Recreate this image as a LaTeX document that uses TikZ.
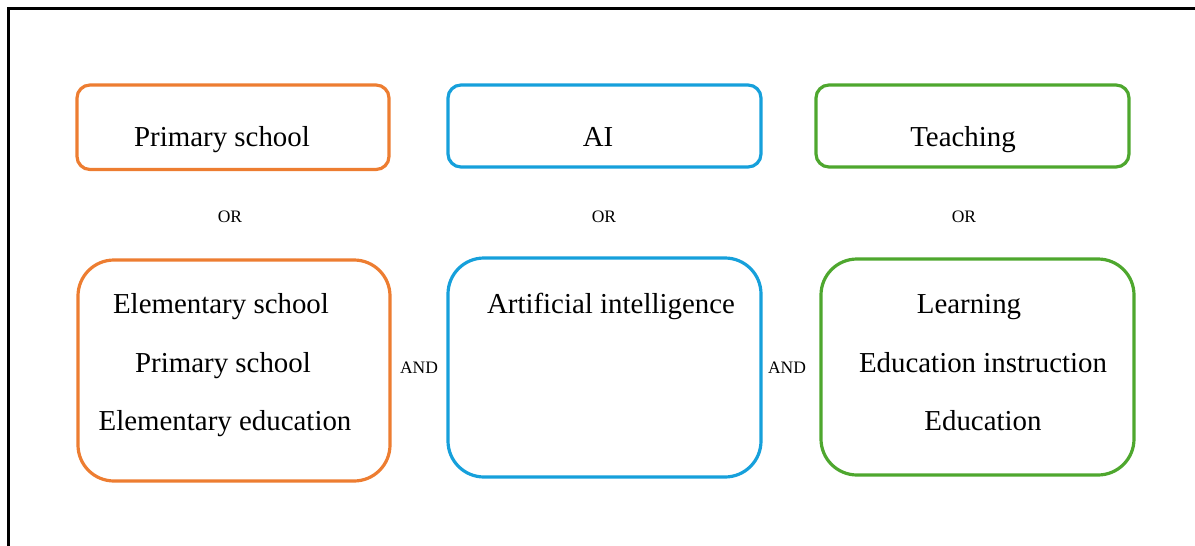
\documentclass[tikz,border=0pt]{standalone}
\usepackage{fontspec}
\setmainfont{Liberation Serif}
\definecolor{cOrange}{RGB}{237,125,49}
\definecolor{cBlue}{RGB}{22,160,219}
\definecolor{cGreen}{RGB}{78,167,46}
\tikzset{
  boxbase/.style={draw, line width=3.2pt, rectangle, inner sep=0pt},
  topbox/.style={boxbase, rounded corners=13pt},
  botbox/.style={boxbase, rounded corners=36pt},
  bigtxt/.style={font=\fontsize{28.9}{32}\selectfont, inner sep=0pt, anchor=base},
  smalltxt/.style={font=\fontsize{17.5}{20}\selectfont, inner sep=0pt, anchor=base},
}
\begin{document}
\begin{tikzpicture}[x=1pt,y=-1pt]
\useasboundingbox (0,0) rectangle (1195,546);
\begin{scope}
\clip (0,0) rectangle (1195,546);
\draw[line width=2.5pt] (8.7,8.7) rectangle (1210,560);
\end{scope}
% top boxes
\node[topbox, cOrange, minimum width=312pt, minimum height=84.5pt] (o1) at (233,127.25) {};
\node[topbox, cBlue, minimum width=313pt, minimum height=82pt] (b1) at (604.5,126) {};
\node[topbox, cGreen, minimum width=313pt, minimum height=82pt] (g1) at (972.5,126) {};
% bottom boxes
\node[botbox, cOrange, minimum width=312pt, minimum height=221pt] (o2) at (234,370.5) {};
\node[botbox, cBlue, minimum width=313pt, minimum height=219pt] (b2) at (604.5,367.5) {};
\node[botbox, cGreen, minimum width=313pt, minimum height=216pt] (g2) at (977.5,367) {};
% top texts
\node[bigtxt] (t1) at (222,146) {Primary school};
\node[bigtxt] (t2) at (598,146) {AI};
\node[bigtxt] (t3) at (963,146) {Teaching};
% OR labels
\node[smalltxt] (or1) at (230,222) {OR};
\node[smalltxt] (or2) at (604,222) {OR};
\node[smalltxt] (or3) at (964,222) {OR};
% AND labels
\node[smalltxt] (and1) at (419,373) {AND};
\node[smalltxt] (and2) at (787,373) {AND};
% orange bottom texts
\node[bigtxt] (e1) at (221,313) {Elementary school};
\node[bigtxt] (e2) at (223,372) {Primary school};
\node[bigtxt] (e3) at (225,430) {Elementary education};
% blue bottom text
\node[bigtxt] (a1) at (611,313) {Artificial intelligence};
% green bottom texts
\node[bigtxt] (l1) at (969,313) {Learning};
\node[bigtxt] (l2) at (983,372) {Education instruction};
\node[bigtxt] (l3) at (983,430) {Education};
\end{tikzpicture}
\end{document}
